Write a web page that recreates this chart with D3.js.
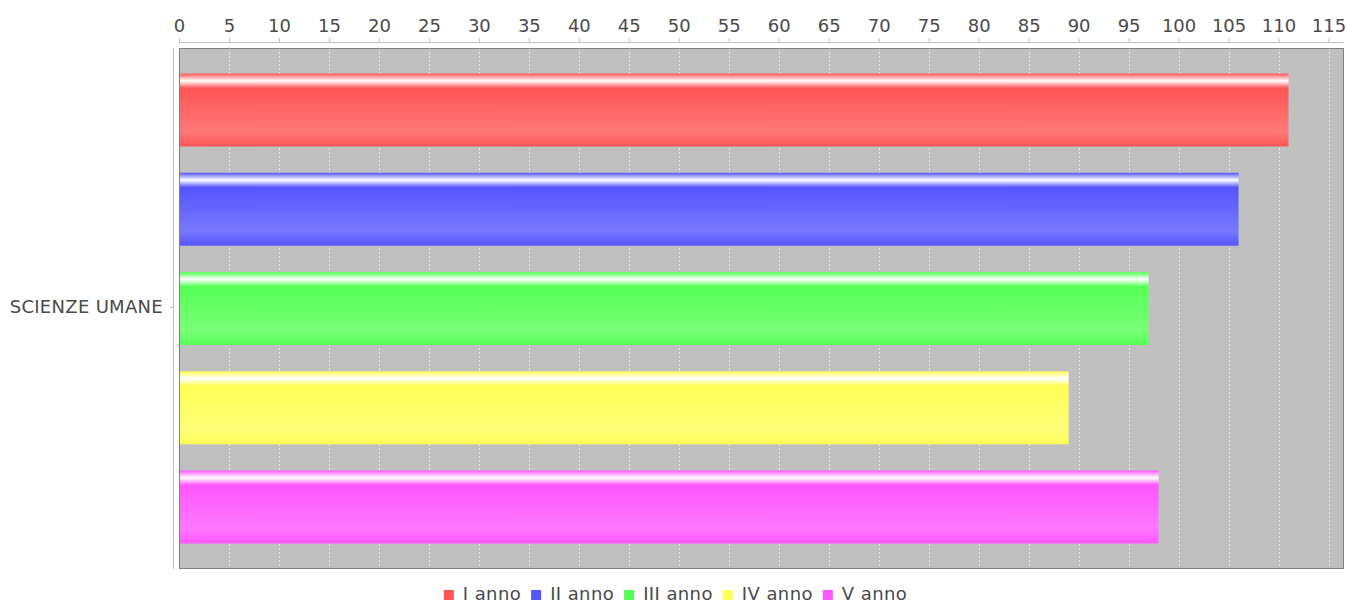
<!DOCTYPE html>
<html><head><meta charset="utf-8">
<script src="https://cdn.jsdelivr.net/npm/d3@7/dist/d3.min.js"></script>
<style>
html,body{margin:0;padding:0;background:#fff;}
svg text{font-family:"DejaVu Sans",sans-serif;fill:#4a4a4a;}
</style></head>
<body><svg id="c" width="1347" height="604"></svg>
<script>
const category = "SCIENZE UMANE";
const series = ["I anno", "II anno", "III anno", "IV anno", "V anno"];
const values = [111, 106, 97, 89, 98];
const colors = ["#ff5555", "#5555ff", "#55ff55", "#ffff55", "#ff55ff"];
const tickValues = d3.range(0, 116, 5);

const svg = d3.select("#c");
const L = 179, R = 1344, T = 48, B = 569;
const x = d3.scaleLinear().domain([0, 111 * 1.05]).range([L, R]);
const y = d3.scaleBand().domain(series).range([T, B]).paddingInner(0.265).paddingOuter(0.257);

function brighter(c) {
  const r = d3.rgb(c);
  const f = v => Math.min(255, Math.round(v / 0.7));
  return d3.rgb(f(r.r), f(r.g), f(r.b)).toString();
}
const defs = svg.append("defs");
series.forEach((s, i) => {
  const g = defs.append("linearGradient").attr("id", "g" + i)
    .attr("x1", 0).attr("y1", 0).attr("x2", 0).attr("y2", 1);
  const c0 = colors[i], c1 = brighter(c0);
  [[0, c0], [0.10, "#ffffff"], [0.20, c0], [0.80, c1], [1, c0]].forEach(([o, c]) =>
    g.append("stop").attr("offset", o).attr("stop-color", c));
});

// background
svg.append("rect").attr("x", L).attr("y", T).attr("width", R - L).attr("height", B - T).attr("fill", "#c0c0c0");
// grid
svg.append("g").selectAll("line").data(tickValues.filter(d => d > 0)).join("line")
  .attr("x1", d => Math.round(x(d)) + 0.5).attr("x2", d => Math.round(x(d)) + 0.5)
  .attr("y1", T).attr("y2", B)
  .attr("stroke", "#e8e8e8").attr("stroke-width", 1).attr("stroke-dasharray", "2,2");

// bars
svg.append("g").selectAll("rect").data(series).join("rect")
  .attr("x", L).attr("y", d => y(d))
  .attr("width", (d, i) => x(values[i]) - L).attr("height", y.bandwidth())
  .attr("fill", (d, i) => `url(#g${i})`);

// outline
svg.append("rect").attr("x", L + 0.5).attr("y", T + 0.5).attr("width", R - L - 1).attr("height", B - T - 1)
  .attr("fill", "none").attr("stroke", "#808080");

// top axis
const ax = d3.axisTop(x).tickValues(tickValues).tickSize(4).tickPadding(6);
const gx = svg.append("g").attr("transform", "translate(0,42)").call(ax);
gx.select(".domain").attr("stroke", "#c0c0c0").attr("d", `M${L},0.5H${R}`);
gx.selectAll(".tick line").attr("stroke", "#c0c0c0");
gx.selectAll(".tick text").attr("font-size", 18).attr("font-family", "DejaVu Sans").attr("fill", "#4a4a4a");

// left axis
svg.append("line").attr("x1", 173.5).attr("x2", 173.5).attr("y1", T).attr("y2", B).attr("stroke", "#c0c0c0");
const cy = (T + B) / 2;
svg.append("line").attr("x1", 170).attr("x2", 173).attr("y1", Math.round(cy) - 1.5).attr("y2", Math.round(cy) - 1.5).attr("stroke", "#c0c0c0");
svg.append("text").attr("x", 163).attr("y", cy - 2).attr("dy", "0.35em").attr("text-anchor", "end")
  .attr("font-size", 18).attr("letter-spacing", 0.3).text(category);

// legend
const lg = svg.append("g");
let lx = 0;
series.forEach((s, i) => {
  const g = lg.append("g");
  g.append("rect").attr("x", 0).attr("y", -10).attr("width", 10).attr("height", 10).attr("fill", colors[i]);
  const t = g.append("text").attr("x", 19).attr("y", 0).attr("font-size", 18).attr("letter-spacing", 0.4).text(s);
  const w = 19 + t.node().getComputedTextLength();
  g.attr("transform", `translate(${lx},0)`);
  lx += w + 10;
});
const total = lx - 10;
lg.attr("transform", `translate(${(L + R) / 2 - total / 2 - 86},600)`);
</script></body></html>
